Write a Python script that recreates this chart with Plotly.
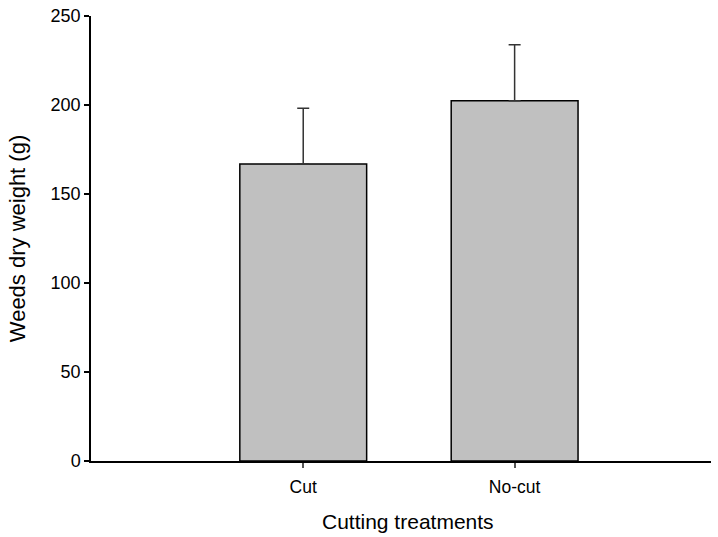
import plotly.graph_objects as go

categories = ["Cut", "No-cut"]
dry_weight = [166.9, 202.4]
std_error = [31.3, 31.5]
y_ticks = [0, 50, 100, 150, 200, 250]

fig = go.Figure()
fig.add_trace(go.Bar(
    x=categories,
    y=dry_weight,
    width=0.6,
    marker=dict(color="#c0c0c0", line=dict(color="black", width=1.5)),
    error_y=dict(type="data", symmetric=False, array=std_error,
                 arrayminus=[0] * len(std_error),
                 color="#333333", thickness=1.5, width=6),
))

font = "Liberation Sans, Arial, sans-serif"
fig.update_layout(
    width=718, height=537,
    margin=dict(l=91, r=7, t=16, b=76),
    plot_bgcolor="white", paper_bgcolor="white",
    showlegend=False,
    font=dict(family=font, color="black"),
    xaxis=dict(
        type="category", range=[-1.004, 1.929], automargin=False,
        showline=True, linecolor="black", linewidth=1.5,
        ticks="outside", ticklen=5, tickcolor="#555555", tickwidth=1.5,
        ticklabelstandoff=4,
        tickfont=dict(size=17.5, family=font),
        showgrid=False, zeroline=False,
    ),
    yaxis=dict(
        range=[0, 250], tickvals=y_ticks, automargin=False,
        showline=True, linecolor="black", linewidth=1.5,
        ticks="outside", ticklen=5, tickcolor="black", tickwidth=1.5,
        tickfont=dict(size=18, family=font),
        title=dict(text="Weeds dry weight (g)", font=dict(size=22, family=font), standoff=19),
        showgrid=False, zeroline=False,
    ),
    annotations=[dict(
        text="Cutting treatments", xref="paper", yref="paper",
        x=0.5105, y=-0.137, xanchor="center", yanchor="middle",
        showarrow=False, font=dict(size=21, family=font, color="black"),
    )],
)

fig.write_html(
    "out.html",
    config={"displayModeBar": False, "responsive": False},
    post_script=(
        "document.body.style.margin='0';"
        "document.body.style.overflow='hidden';"
        "var gd=document.getElementById('{plot_id}');"
        "Plotly.relayout(gd,{width:718,height:537});"
    ),
)
